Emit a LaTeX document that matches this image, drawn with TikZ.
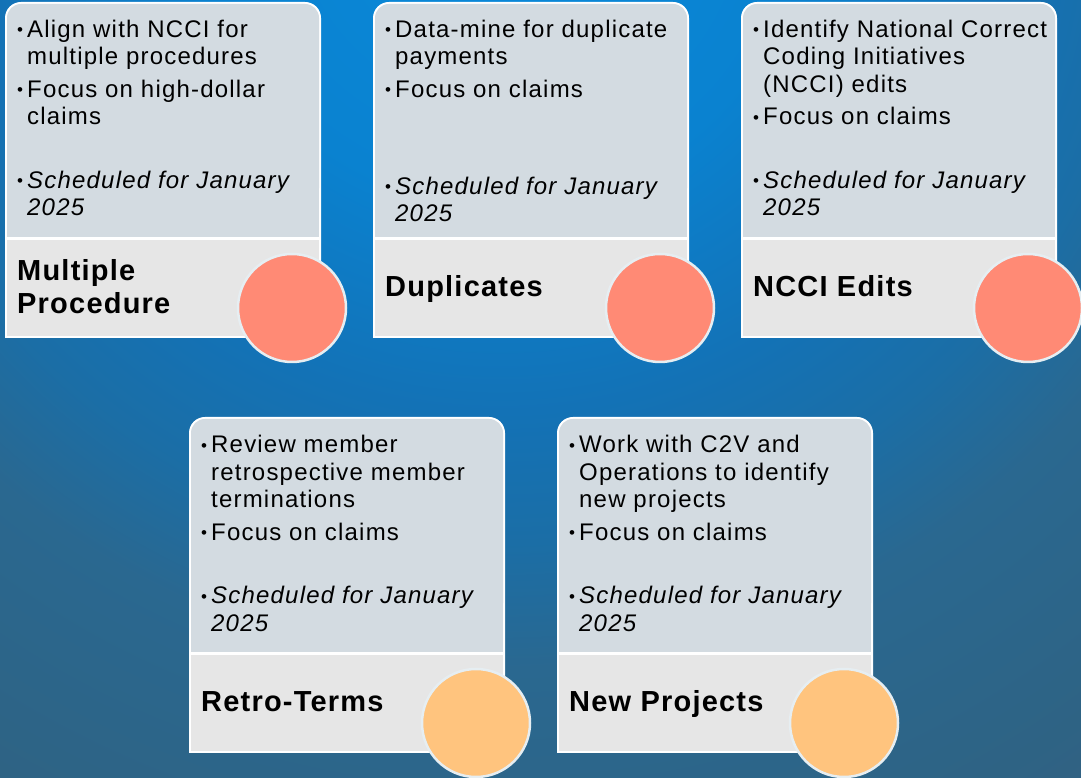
\documentclass[tikz,border=0pt]{standalone}
\usepackage{fontspec}
\setmainfont{Liberation Sans}[LetterSpace=5]
\newfontfamily\titlefont{Liberation Sans}[LetterSpace=4.2]
\definecolor{bgA}{HTML}{0A8ADA}
\definecolor{bgB}{HTML}{0A82D0}
\definecolor{bgC}{HTML}{1372B6}
\definecolor{bgD}{HTML}{1B6EA6}
\definecolor{bgE}{HTML}{2A6890}
\definecolor{bgF}{HTML}{2E6384}
\definecolor{bgG}{HTML}{356082}
\definecolor{upperfill}{HTML}{D3DBE1}
\definecolor{lowerfill}{HTML}{E6E6E6}
\definecolor{salmon}{HTML}{FF8A75}
\definecolor{apricot}{HTML}{FFC47E}
\definecolor{ringcol}{HTML}{E6EEF2}
\pgfdeclareradialshading{bgshade}{\pgfpoint{0bp}{0bp}}{color(0bp)=(bgA); color(12.5bp)=(bgB); color(21.25bp)=(bgC); color(26.7bp)=(bgD); color(31.9bp)=(bgE); color(41.7bp)=(bgF); color(46bp)=(bgG); color(50bp)=(bgG)}
\newcommand\bi{\par\hangindent=10pt\hangafter=1\noindent\makebox[10pt][l]{\raisebox{1.5pt}{\fontsize{17}{17}\selectfont\char"2022}}}
\newcommand\mycard[8]{%
  \fill[white,rounded corners=16pt] (#1,{778-#2-300}) rectangle ({#1+316},{778-#2});
  \fill[white] (#1,{778-#2-336}) rectangle ({#1+316},{778-#2-40});
  \fill[upperfill,rounded corners=14pt] ({#1+2},{778-#2-200}) rectangle ({#1+314},{778-#2-2});
  \fill[upperfill] ({#1+2},{778-#2-235}) rectangle ({#1+314},{778-#2-40});
  \fill[lowerfill] ({#1+2},{778-#2-334}) rectangle ({#1+314},{778-#2-238});
  \node[bodytext] (#3-text) at ({#1+12},{778-#2-#7}) {\parbox[t]{310pt}{#8}};
  \node[headline] (#3-title) at ({#1+12},{778-#2-#5}) {\parbox[t]{230pt}{#6}};
  \node[dot, fill=#4] (#3-circle) at ({#1+287},{778-#2-306}) {};
}
\tikzset{
  bodytext/.style={anchor=base west, inner sep=0pt, text=black, font=\fontsize{24}{27.5}\selectfont},
  headline/.style={anchor=base west, inner sep=0pt, text=black, font=\titlefont\bfseries\fontsize{29}{33}\selectfont},
  dot/.style={circle, draw=ringcol, line width=2.5pt, minimum size=108pt, inner sep=0pt}
}
\begin{document}
\begin{tikzpicture}[x=1pt,y=1pt]
\useasboundingbox (0,0) rectangle (1081,778);
\begin{scope}
  \clip (0,0) rectangle (1081,778);
  \begin{scope}[shift={(500,878)}, scale=24]
    \pgflowlevelsynccm
    \pgfuseshading{bgshade}
  \end{scope}
\end{scope}
\mycard{5}{2}{c1}{salmon}{279}{Multiple\\Procedure}{35.5}{%
\bi Align with NCCI for\\multiple procedures\par\vspace{5pt}
\bi Focus on high-dollar\\claims\par\vspace{36pt}
\bi{\itshape Scheduled for January\\2025}}
\mycard{373}{2}{c2}{salmon}{295}{Duplicates}{35.5}{%
\bi Data-mine for duplicate\\payments\par\vspace{5pt}
\bi Focus on claims\par\vspace{69.5pt}
\bi{\itshape Scheduled for January\\2025}}
\mycard{741}{2}{c3}{salmon}{295}{NCCI Edits}{35.5}{%
\bi Identify National Correct\\Coding Initiatives\\(NCCI) edits\par\vspace{5pt}
\bi Focus on claims\par\vspace{36pt}
\bi{\itshape Scheduled for January\\2025}}
\mycard{189}{417}{c4}{apricot}{295}{Retro-Terms}{36}{%
\bi Review member\\retrospective member\\terminations\par\vspace{5pt}
\bi Focus on claims\par\vspace{36pt}
\bi{\itshape Scheduled for January\\2025}}
\mycard{557}{417}{c5}{apricot}{295}{New Projects}{36}{%
\bi Work with C2V and\\Operations to identify\\new projects\par\vspace{5pt}
\bi Focus on claims\par\vspace{36pt}
\bi{\itshape Scheduled for January\\2025}}
\end{tikzpicture}
\end{document}
